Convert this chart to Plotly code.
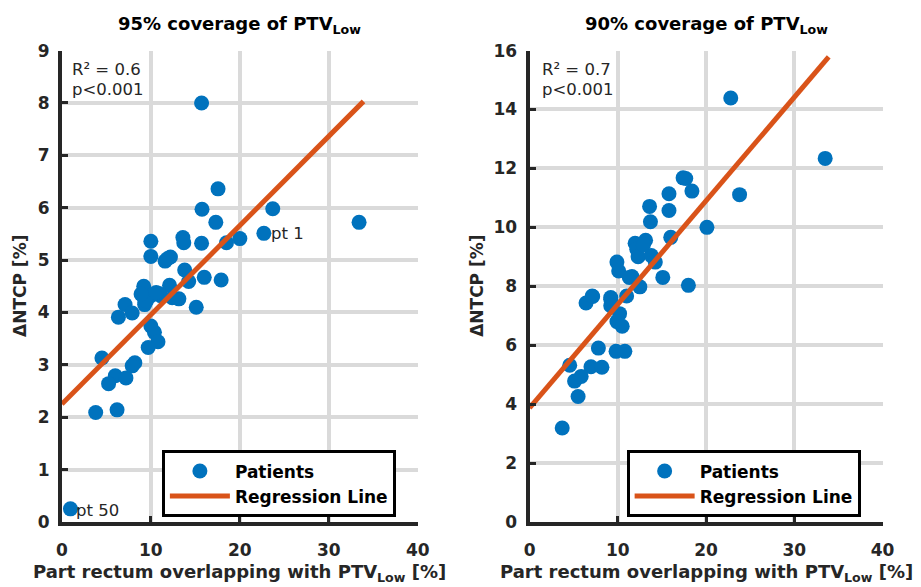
import plotly.graph_objects as go

# ---- data: 95% coverage of PTV_Low (left) ----
x95 = [15.7, 17.55, 15.75, 23.7, 33.4, 17.3, 22.7, 20.0, 18.5, 15.7,
       13.6, 13.7, 10.0, 10.0, 11.6, 12.2, 13.8, 16.0, 17.9, 14.25,
       9.2, 12.1, 13.15, 15.1, 7.1, 6.35, 7.9, 9.3, 10.0, 11.1,
       10.0, 10.4, 10.8, 9.7, 4.5, 8.2, 7.9, 6.0, 5.25, 7.2,
       3.8, 6.2, 0.96, 9.3, 10.9, 11.9, 9.5, 10.6, 12.4, 8.9]
y95 = [8.0, 6.36, 5.97, 5.98, 5.72, 5.72, 5.51, 5.41, 5.33, 5.32,
       5.43, 5.33, 5.36, 5.07, 4.98, 5.06, 4.81, 4.67, 4.62, 4.59,
       4.50, 4.52, 4.26, 4.10, 4.15, 3.91, 3.99, 4.15, 4.32, 4.32,
       3.74, 3.62, 3.44, 3.33, 3.13, 3.04, 2.98, 2.79, 2.64, 2.75,
       2.09, 2.14, 0.25, 4.24, 4.36, 5.03, 4.22, 4.38, 4.28, 4.35]
fit95_intercept = 2.25
fit95_slope = 0.1705
fit95_xmax = 33.9

# ---- data: 90% coverage of PTV_Low (right) ----
x90 = [22.8, 33.5, 17.4, 17.7, 18.4, 23.8, 15.8, 15.8, 13.6, 13.7,
       20.1, 16.0, 13.15, 11.96, 12.15, 12.3, 13.8, 14.25, 9.9, 10.1,
       11.6, 15.1, 12.5, 18.0, 7.1, 9.2, 11.0, 6.4, 7.15, 9.2,
       9.2, 10.2, 9.9, 10.5, 7.8, 9.8, 10.8, 4.55, 6.96, 8.2,
       5.1, 5.85, 5.5, 3.7, 12.9, 11.3]
y90 = [14.39, 12.34, 11.68, 11.66, 11.23, 11.11, 11.14, 10.57, 10.71, 10.19,
       10.0, 9.66, 9.56, 9.46, 9.26, 9.0, 9.04, 8.82, 8.82, 8.52,
       8.33, 8.30, 7.98, 8.03, 7.67, 7.62, 7.67, 7.43, 7.65, 7.56,
       7.34, 7.07, 6.80, 6.64, 5.90, 5.79, 5.79, 5.32, 5.27, 5.25,
       4.78, 4.94, 4.26, 3.19, 9.4, 8.3]
fit90_intercept = 3.87
fit90_slope = 0.3516
fit90_xmax = 33.9

xticks = [0, 10, 20, 30, 40]
yticks95 = list(range(0, 10))
yticks90 = list(range(0, 17, 2))

titles = ["95% coverage of PTV<sub>Low</sub>", "90% coverage of PTV<sub>Low</sub>"]
xlabel = "Part rectum overlapping with PTV<sub>Low</sub> [%]"
ylabel = "ΔNTCP [%]"
stats95 = ["R² = 0.6", "p<0.001"]
stats90 = ["R² = 0.7", "p<0.001"]

BLUE = "#0072BD"
ORANGE = "#D95319"
DARK = "#262626"
GRID = "#dadada"
FONT = "DejaVu Sans"

fig = go.Figure()

fig.add_trace(go.Scatter(x=x95, y=y95, mode="markers", name="Patients",
                         marker=dict(color=BLUE, size=15), xaxis="x", yaxis="y",
                         legend="legend"))
fig.add_trace(go.Scatter(x=[0, fit95_xmax],
                         y=[fit95_intercept, fit95_intercept + fit95_slope * fit95_xmax],
                         mode="lines", name="Regression Line",
                         line=dict(color=ORANGE, width=5), xaxis="x", yaxis="y",
                         legend="legend"))
fig.add_trace(go.Scatter(x=x90, y=y90, mode="markers", name="Patients",
                         marker=dict(color=BLUE, size=15), xaxis="x2", yaxis="y2",
                         legend="legend2"))
fig.add_trace(go.Scatter(x=[0, fit90_xmax],
                         y=[fit90_intercept, fit90_intercept + fit90_slope * fit90_xmax],
                         mode="lines", name="Regression Line",
                         line=dict(color=ORANGE, width=5), xaxis="x2", yaxis="y2",
                         legend="legend2"))

W, H = 921, 587

axis_common = dict(showgrid=True, gridcolor=GRID, gridwidth=3.5, zeroline=False,
                   showline=True, linecolor=DARK, linewidth=4, ticks="inside",
                   ticklen=6, tickwidth=3, tickcolor=DARK, mirror=False,
                   tickfont=dict(family=FONT, size=17, color=DARK, weight="bold"))
xaxis_extra = dict(ticklabelstandoff=10)
yaxis_extra = dict(ticklabelstandoff=5)

ybot = 1 - 530 / H
ytop = 1 - 42 / H

fig.update_layout(
    width=W, height=H,
    margin=dict(l=0, r=0, t=0, b=0),
    paper_bgcolor="white", plot_bgcolor="white",
    font=dict(family=FONT, color=DARK),
    xaxis=dict(domain=[57 / W, 420 / W], range=[0, 40], tickvals=xticks,
               anchor="y", **axis_common, **xaxis_extra),
    yaxis=dict(domain=[ybot, ytop], range=[0, 9], tickvals=yticks95,
               anchor="x", **axis_common, **yaxis_extra),
    xaxis2=dict(domain=[534 / W, 894 / W], range=[0, 40], tickvals=xticks,
                anchor="y2", **axis_common, **xaxis_extra),
    yaxis2=dict(domain=[ybot, ytop], range=[0, 16], tickvals=yticks90,
                anchor="x2", **axis_common, **yaxis_extra),
    legend=dict(x=159 / W, y=1 - 456 / H, xanchor="left", yanchor="top",
                bgcolor="white", bordercolor="black", borderwidth=3,
                font=dict(family=FONT, size=17, color="black", weight="bold"),
                itemwidth=60, tracegroupgap=0),
    legend2=dict(x=633 / W, y=1 - 456 / H, xanchor="left", yanchor="top",
                 bgcolor="white", bordercolor="black", borderwidth=3,
                 font=dict(family=FONT, size=17, color="black", weight="bold"),
                 itemwidth=60, tracegroupgap=0),
    showlegend=True,
)

title_font = dict(family=FONT, size=18, color="black", weight="bold")
label_font = dict(family=FONT, size=18, color=DARK, weight="bold")
stat_font = dict(family=FONT, size=16.5, color=DARK)
annots = []
for t, cx in zip(titles, [(57 + 420) / 2, (534 + 894) / 2]):
    annots.append(dict(text=t, x=cx / W, y=1 - 16 / H, xref="paper", yref="paper",
                       xanchor="center", yanchor="middle", showarrow=False,
                       font=title_font))
    annots.append(dict(text=xlabel, x=cx / W, y=1 - 583 / H, xref="paper", yref="paper",
                       xanchor="center", yanchor="middle", showarrow=False,
                       font=label_font))
for lx in [15, 481]:
    annots.append(dict(text=ylabel, x=lx / W, y=1 - 286 / H, xref="paper", yref="paper",
                       xanchor="center", yanchor="middle", textangle=-90,
                       showarrow=False, font=dict(family=FONT, size=17, color=DARK,
                                                  weight="bold")))
# statistics text (two lines each)
for (txt, yv) in zip(stats95, [8.63, 8.25]):
    annots.append(dict(text=txt, x=0.9, y=yv, xref="x", yref="y", xanchor="left",
                       yanchor="middle", showarrow=False, font=stat_font))
for (txt, yv) in zip(stats90, [15.35, 14.67]):
    annots.append(dict(text=txt, x=1.2, y=yv, xref="x2", yref="y2", xanchor="left",
                       yanchor="middle", showarrow=False, font=stat_font))
annots.append(dict(text="pt 1", x=x95[6], y=y95[6], xref="x", yref="y", xanchor="left",
                   yanchor="middle", xshift=5, showarrow=False, font=stat_font))
annots.append(dict(text="pt 50", x=x95[42], y=y95[42], xref="x", yref="y", xanchor="left",
                   yanchor="middle", xshift=4, yshift=-2, showarrow=False, font=stat_font))
fig.update_layout(annotations=annots)

fig.write_html("out.html")
